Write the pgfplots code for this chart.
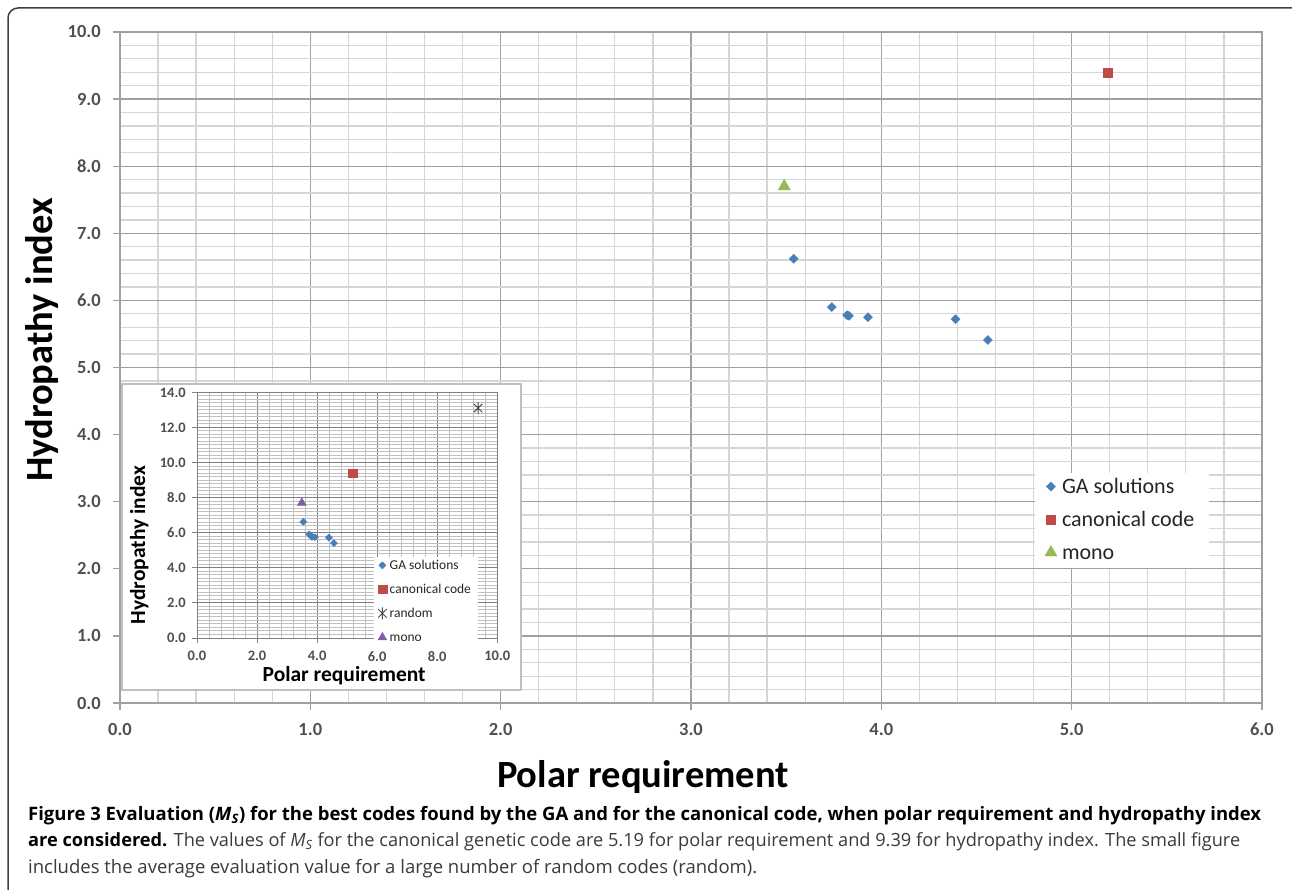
\documentclass[border=0pt]{standalone}
\usepackage{fontspec}
\setmainfont{Carlito}
\newfontfamily\capfont{Open Sans}
\usepackage{pgfplots}
\pgfplotsset{compat=1.18}
\definecolor{gablue}{HTML}{4A7EBB}
\definecolor{canred}{HTML}{BE4B48}
\definecolor{monogreen}{HTML}{98B954}
\definecolor{monopurple}{HTML}{7D60A0}
\definecolor{majgrid}{HTML}{A0A0A0}
\definecolor{mingrid}{HTML}{D6D6D6}
\definecolor{ticktext}{HTML}{505050}
\definecolor{captext}{HTML}{3A3A3A}
\pgfdeclareplotmark{xstar}{%
  \pgfpathmoveto{\pgfqpoint{-.707\pgfplotmarksize}{-.707\pgfplotmarksize}}%
  \pgfpathlineto{\pgfqpoint{.707\pgfplotmarksize}{.707\pgfplotmarksize}}%
  \pgfpathmoveto{\pgfqpoint{-.707\pgfplotmarksize}{.707\pgfplotmarksize}}%
  \pgfpathlineto{\pgfqpoint{.707\pgfplotmarksize}{-.707\pgfplotmarksize}}%
  \pgfpathmoveto{\pgfqpoint{0pt}{-\pgfplotmarksize}}%
  \pgfpathlineto{\pgfqpoint{0pt}{\pgfplotmarksize}}%
  \pgfusepathqstroke}
\begin{document}
\begin{tikzpicture}
\useasboundingbox (0pt,0pt) rectangle (1292pt,-890pt);
% outer frame
\draw[line width=1.5pt, color=black!75] (1292pt,-8pt) -- (18pt,-8pt) arc[start angle=90, end angle=180, radius=10pt] -- (8pt,-890pt);
% main axis
\begin{axis}[
  at={(120pt,-703pt)}, anchor=south west,
  scale only axis, width=1142pt, height=671pt,
  xmin=0, xmax=6, ymin=0, ymax=10,
  xtick={0,1,...,6}, ytick={0,1,...,10},
  minor x tick num=4, minor y tick num=4,
  grid=both,
  major grid style={color=majgrid, line width=1.3pt},
  minor grid style={color=mingrid, line width=1.3pt},
  axis line style={color=majgrid, line width=1.3pt},
  tick align=outside, major tick length=7pt, minor tick length=0pt,
  tick style={color=majgrid, line width=1.3pt},
  xtick pos=bottom, ytick pos=left,
  /pgf/number format/assume math mode=true,
  /pgf/number format/.cd, fixed, fixed zerofill, precision=1, /pgfplots/.cd,
  ticklabel style={font=\fontsize{18.5}{20}\selectfont\bfseries, text=ticktext},
  yticklabel style={anchor=east, inner sep=0pt, xshift=-12pt},
  xticklabel style={anchor=north, inner sep=0pt, yshift=-13pt},
  xlabel={Polar requirement}, ylabel={Hydropathy index},
  label style={font=\fontsize{38.5}{40}\selectfont\bfseries, text=black},
  xlabel style={at={(axis description cs:0.458,-0.1252)}, anchor=base, inner sep=0pt},
  ylabel style={at={(axis description cs:-0.0587,0.541)}, anchor=base, inner sep=0pt},
  legend style={at={(axis description cs:0.801,0.343)}, anchor=north west,
    draw=none, fill=white, font=\fontsize{22}{26}\selectfont, text=black!85,
    inner xsep=10pt, inner ysep=4pt, row sep=12pt,
    nodes={inner xsep=5pt, inner ysep=0pt, text height=16pt, text depth=5pt}},
  legend cell align=left,
  legend image code/.code={\draw[#1] plot coordinates {(0pt,1pt)};},
]
\addplot[only marks, mark=square*, mark size=3.2pt, mark options={rotate=45, fill=gablue, draw=gablue}, draw=gablue] coordinates {
(3.54,6.62) (3.74,5.90) (3.82,5.78) (3.83,5.77) (3.93,5.75) (4.39,5.72) (4.56,5.41)};
\addlegendentry{GA solutions}
\addplot[only marks, mark=square*, mark size=4.7pt, mark options={fill=canred, draw=canred}] coordinates {(5.19,9.39)};
\addlegendentry{canonical code}
\addplot[only marks, mark=triangle*, mark size=7pt, mark options={fill=monogreen, draw=monogreen}] coordinates {(3.49,7.70)};
\addlegendentry{mono}
\end{axis}
% inset box
\draw[fill=white, draw=black!25, line width=1.3pt] (122pt,-384pt) rectangle (521pt,-690pt);
\begin{axis}[
  at={(197pt,-638pt)}, anchor=south west,
  scale only axis, width=300.3pt, height=245.7pt,
  xmin=0, xmax=10, ymin=0, ymax=14,
  xtick={0,2,...,10}, ytick={0,2,...,14},
  minor x tick num=4, minor y tick num=9,
  grid=both,
  major grid style={color=black!50, line width=1pt},
  minor grid style={color=black!25, line width=1pt},
  axis line style={color=black!50, line width=1pt},
  tick align=outside, major tick length=5pt, minor tick length=0pt,
  tick style={color=black!50, line width=1pt},
  xtick pos=bottom, ytick pos=left,
  /pgf/number format/assume math mode=true,
  /pgf/number format/.cd, fixed, fixed zerofill, precision=1, /pgfplots/.cd,
  ticklabel style={font=\fontsize{14.5}{16}\selectfont\bfseries, text=ticktext},
  yticklabel style={anchor=east, inner sep=0pt, xshift=-6pt},
  xticklabel style={anchor=north, inner sep=0pt, yshift=-8pt},
  xlabel={Polar requirement}, ylabel={Hydropathy index},
  label style={font=\fontsize{21.5}{24}\selectfont\bfseries, text=black},
  xlabel style={at={(axis description cs:0.49,-0.178)}, anchor=base, inner sep=0pt},
  ylabel style={at={(axis description cs:-0.173,0.378)}, anchor=base, inner sep=0pt},
  legend style={at={(axis description cs:0.589,0.329)}, anchor=north west,
    draw=none, fill=white, font=\fontsize{13.5}{15}\selectfont, text=black!85,
    inner xsep=4pt, inner ysep=2pt, row sep=11pt,
    nodes={inner xsep=3pt, inner ysep=0pt, text height=10pt, text depth=3pt}},
  legend cell align=left,
  legend image code/.code={\draw[#1] plot coordinates {(0pt,0.5pt)};},
]
\addplot[only marks, mark=square*, mark size=2.5pt, mark options={rotate=45, fill=gablue, draw=gablue}] coordinates {
(3.54,6.62) (3.74,5.90) (3.82,5.78) (3.83,5.77) (3.93,5.75) (4.39,5.72) (4.56,5.41)};
\addlegendentry{GA solutions}
\addplot[only marks, mark=square*, mark size=4.3pt, mark options={fill=canred, draw=canred}] coordinates {(5.19,9.39)};
\addlegendentry{canonical code}
\addplot[only marks, mark=xstar, mark size=6pt, mark options={draw=black!70, line width=1pt}] coordinates {(9.36,13.1)};
\addlegendentry{random}
\addplot[only marks, mark=triangle*, mark size=5pt, mark options={fill=monopurple, draw=monopurple}] coordinates {(3.49,7.70)};
\addlegendentry{mono}
\end{axis}
% caption
\node[anchor=base west, inner sep=0pt, font=\capfont\fontsize{18.5}{20}\selectfont\bfseries] at (28pt,-820pt)
  {Figure 3 Evaluation (\textit{M}\textsubscript{\textit{S}}) for the best codes found by the GA and for the canonical code, when polar requirement and hydropathy index};
\node[anchor=base west, inner sep=0pt, font=\capfont\fontsize{18.2}{20}\selectfont, text=captext] at (28pt,-846.7pt)
  {\textcolor{black}{\bfseries are considered.} The values of \textit{M}\textsubscript{\textit{S}} for the canonical genetic code are 5.19 for polar requirement and 9.39 for hydropathy index. The small figure};
\node[anchor=base west, inner sep=0pt, font=\capfont\fontsize{18.5}{20}\selectfont, text=captext] at (28pt,-873.3pt)
  {includes the average evaluation value for a large number of random codes (random).};
\end{tikzpicture}
\end{document}
